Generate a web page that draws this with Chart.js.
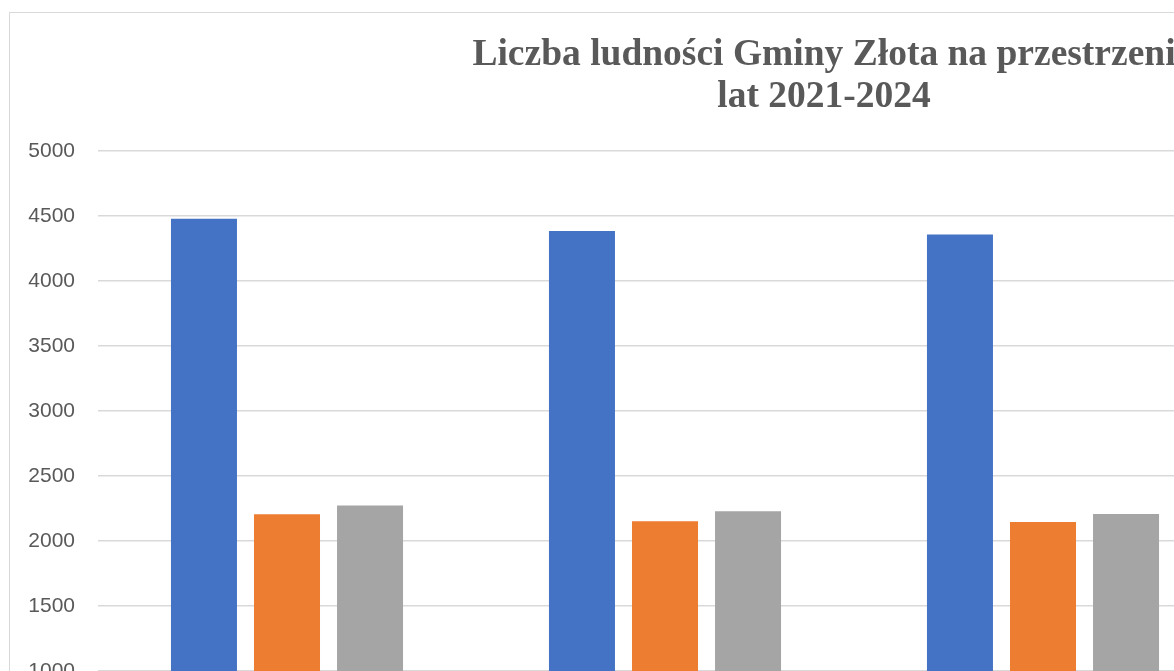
<!DOCTYPE html>
<html><head><meta charset="utf-8">
<script src="https://cdn.jsdelivr.net/npm/chart.js@4.4.1/dist/chart.umd.min.js"></script>
<style>
html,body{margin:0;padding:0;overflow:hidden;background:#fff;width:1174px;height:671px;}
#frame{position:absolute;left:9px;top:12px;border:1px solid #d9d9d9;background:#fff;}
canvas{display:block;}
</style></head><body>
<div id="frame"><canvas id="c" width="1628" height="848"></canvas></div>
<script>
// Categories (years) and series; 2024 group lies outside the visible crop
const years = ['2021', '2022', '2023', '2024'];
const seriesNames = ['Ogółem', 'Kobiety', 'Mężczyźni'];
const totalValues = [4478, 4384, 4357, null];
const womenValues = [2205, 2152, 2147, null];
const menValues = [2273, 2228, 2208, null];
const yMin = 0, yMax = 5000, yStep = 500;
const titleLines = ['Liczba ludności Gminy Złota na przestrzeni', 'lat 2021-2024'];

const colors = ['#4472C4', '#ED7D31', '#A5A5A5'];
const seriesValues = [totalValues, womenValues, menValues];

new Chart(document.getElementById('c'), {
  type: 'bar',
  data: {
    labels: years,
    datasets: seriesNames.map((name, i) => ({
      label: name,
      data: seriesValues[i],
      backgroundColor: colors[i],
      borderWidth: 0,
      categoryPercentage: 0.659,
      barPercentage: 0.795,
      yAxisID: 'y'
    }))
  },
  options: {
    responsive: false,
    animation: false,
    devicePixelRatio: 1,
    layout: { padding: 0 },
    plugins: {
      title: {
        display: true,
        text: titleLines,
        color: '#595959',
        font: { family: 'Liberation Serif', size: 37.5, weight: 'bold', lineHeight: '42px' },
        padding: { top: 21, bottom: 33 }
      },
      legend: { display: false },
      tooltip: { enabled: false }
    },
    scales: {
      x: {
        grid: { display: false },
        border: { display: true, color: '#d9d9d9' },
        ticks: { color: '#595959', font: { family: 'Liberation Sans', size: 21 } },
        afterFit: s => { s.height = 60; }
      },
      y: {
        position: 'left',
        min: yMin, max: yMax,
        ticks: {
          stepSize: yStep, color: '#595959', padding: 23,
          font: { family: 'Liberation Sans', size: 21 },
          callback: v => String(v)
        },
        grid: { color: '#d9d9d9', lineWidth: 1.5, drawTicks: false },
        border: { display: false },
        afterFit: s => { s.width = 88; }
      },
      yRight: {
        position: 'right',
        min: yMin, max: yMax,
        grid: { display: false, drawTicks: false },
        ticks: { display: false },
        border: { display: false },
        afterFit: s => { s.width = 28; }
      }
    }
  }
});
</script>
</body></html>
